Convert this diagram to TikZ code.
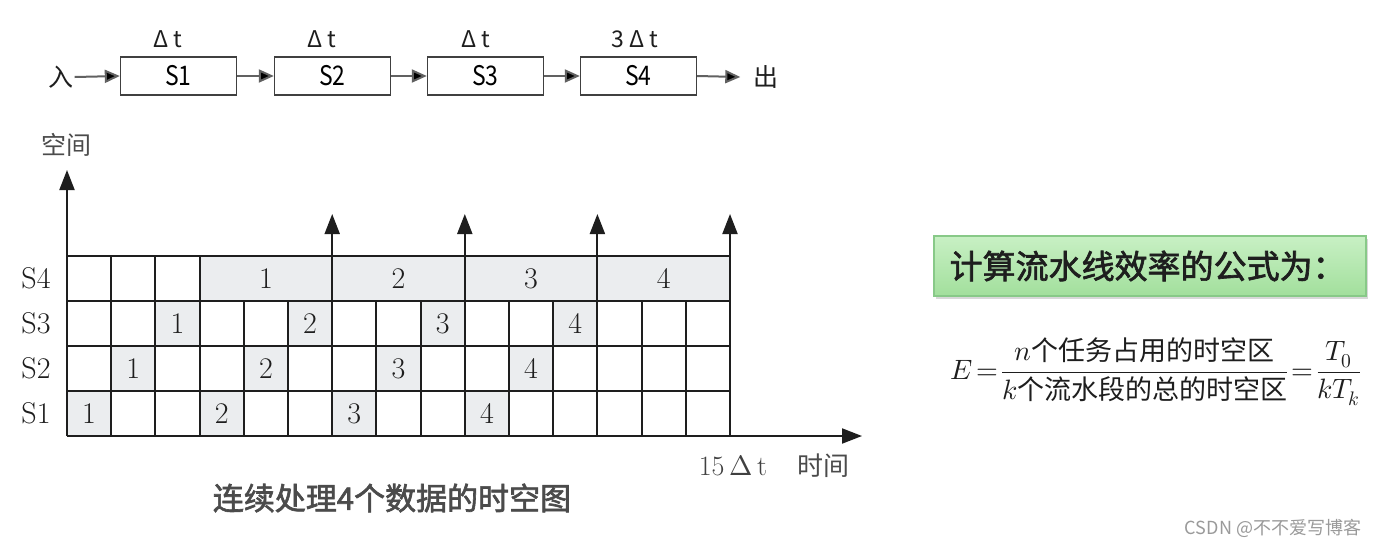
\documentclass[tikz,border=0pt]{standalone}
\usepackage{fontspec}
\usepackage{unicode-math}
\setmathfont{Latin Modern Math}
\newfontfamily\cjk{Noto Sans CJK SC}
\newfontfamily\cjkn[FakeStretch=0.85]{Noto Sans CJK SC}
\newfontfamily\cjkb[FakeBold=2]{Noto Sans CJK SC}
\usetikzlibrary{arrows.meta,shadows,calc}
\definecolor{cellgray}{HTML}{EBEDEF}
\definecolor{ink}{HTML}{1E1E1E}
\definecolor{gtop}{HTML}{C8F0C4}
\definecolor{gbot}{HTML}{A2DF9C}
\definecolor{gedge}{HTML}{88C988}
\definecolor{wm}{HTML}{9A9A9A}
\begin{document}
\begin{tikzpicture}[x=1pt,y=-1pt,
  gridline/.style={draw=ink,line width=2pt},
  axisarrow/.style={gridline,-{Triangle[length=20pt,width=15pt]}},
  num/.style={inner sep=0pt,text=ink,font=\fontsize{30}{32}\selectfont},
  rowlab/.style={inner sep=0pt,text=ink,font=\fontsize{30}{32}\selectfont},
  stagebox/.style={draw=ink!85,line width=1.4pt,fill=white,minimum width=116pt,minimum height=38pt,inner sep=0pt,font=\fontsize{27}{30}\cjkn},
  dtlab/.style={inner sep=0pt,font=\fontsize{23}{26}\cjk,text=ink},
  flowarrow/.style={draw=ink!70,line width=2pt,-{Triangle[length=15pt,width=13pt,fill=black]}},
  cjklab/.style={inner sep=1pt,font=\fontsize{25}{28}\cjk,text=ink},
]
\useasboundingbox (0,0) rectangle (1383,546);
\fill[white] (0,0) rectangle (1383,546);

% ---------- top pipeline ----------
\node[cjklab] (in) at (61,77) {入};
\node[stagebox] (s1) at (178.5,76) {S1};
\node[stagebox] (s2) at (332.5,76) {S2};
\node[stagebox] (s3) at (485.5,76) {S3};
\node[stagebox] (s4) at (638.5,76) {S4};
\node[cjklab] (out) at (766,77) {出};
\node[dtlab] (d1) at (168,39) {Δ t};
\node[dtlab] (d2) at (322,39) {Δ t};
\node[dtlab] (d3) at (476,39) {Δ t};
\node[dtlab] (d4) at (635,39) {3 Δ t};
\draw[flowarrow] (in.east) -- (s1.west);
\draw[flowarrow] (s1.east) -- (s2.west);
\draw[flowarrow] (s2.east) -- (s3.west);
\draw[flowarrow] (s3.east) -- (s4.west);
\draw[flowarrow] (s4.east) -- ($(out.west)+(-12,0)$);

% ---------- space-time diagram ----------
% shaded cells
\foreach \c/\r/\n in {1/1/1,4/1/2,7/1/3,10/1/4,2/2/1,5/2/2,8/2/3,11/2/4,3/3/1,6/3/2,9/3/3,12/3/4}{
  \fill[cellgray] ({67+(\c-1)*44.2},{436-\r*45}) rectangle ({67+\c*44.2},{436-(\r-1)*45});
  \node[num] (n\r-\c) at ({67+(\c-0.5)*44.2},{436-(\r-0.5)*45}) {\n};
}
\fill[cellgray] ({67+3*44.2},256) rectangle (730,301);
\foreach \k/\n in {4.5/1,7.5/2,10.5/3,13.5/4}{
  \node[num] (b\n) at ({67+\k*44.2},278.5) {\n};
}
% grid lines
\foreach \y in {256,301,346,391} \draw[gridline] (67,\y) -- (730,\y);
\foreach \c in {0,...,15} \draw[gridline] ({67+\c*44.2},301) -- ({67+\c*44.2},436);
\foreach \c in {1,2,3} \draw[gridline] ({67+\c*44.2},256) -- ({67+\c*44.2},301);
% axes
\coordinate (o) at (67,436);
\coordinate (ytip) at (67,170);
\coordinate (xtip) at (862,436);
\draw[axisarrow] (o) -- (ytip);
\draw[axisarrow] (o) -- (xtip);
\foreach \c in {6,9,12,15}{
  \coordinate (vb\c) at ({67+\c*44.2},436);
  \coordinate (vt\c) at ({67+\c*44.2},214);
  \draw[axisarrow] (vb\c) -- (vt\c);
}
% row labels
\node[rowlab] (r4) at (36,278.5) {S4};
\node[rowlab] (r3) at (36,323.5) {S3};
\node[rowlab] (r2) at (36,368.5) {S2};
\node[rowlab] (r1) at (36,413.5) {S1};
% axis labels
\node[cjklab,text=ink!80] (space) at (66,145) {空间};
\node[inner sep=0pt,text=ink!85,font=\fontsize{28}{30}\selectfont] (tlab) at (733,466) {15\,$\Delta$\,t};
\node[cjklab,text=ink!80,font=\fontsize{26}{28}\cjk] (time) at (823,466) {时间};
\node[inner sep=0pt,text=ink!80,font=\fontsize{31}{34}\cjkb] (title) at (392,498) {连续处理4个数据的时空图};

% ---------- formula ----------
\node[draw=gedge,line width=1.2pt,top color=gtop,bottom color=gbot,minimum width=432pt,minimum height=60pt,
      drop shadow={shadow xshift=2pt,shadow yshift=-3pt,opacity=0.3}] (gbox) at (1150,266) {};
\node[anchor=west,inner sep=0pt,text=ink,font=\fontsize{33}{36}\cjkb] (gtext) at ($(gbox.west)+(16,0)$) {计算流水线效率的公式为：};
\node[inner sep=0pt,text=ink,font=\fontsize{28}{34}\selectfont] (formula) at (1156,372)
  {$\displaystyle E\!=\!\frac{n\mbox{\fontsize{27}{30}\cjk 个任务占用的时空区}}{k\mbox{\fontsize{27}{30}\cjk 个流水段的总的时空区}}\!=\!\frac{T_0}{kT_k}$};

% watermark
\node[inner sep=0pt,text=wm,font=\fontsize{18}{20}\cjk] (mark) at (1273,528) {CSDN @不不爱写博客};
\end{tikzpicture}
\end{document}
